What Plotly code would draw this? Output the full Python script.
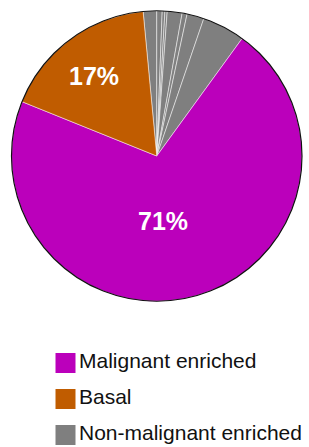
import plotly.graph_objects as go

# ---- data ----
slice_labels = ["Non-malignant 1", "Non-malignant 2", "Non-malignant 3", "Non-malignant 4",
                "Non-malignant 5", "Non-malignant 6", "Non-malignant 7", "Non-malignant 8",
                "Malignant enriched", "Basal"]
slice_values = [1.5, 0.6, 0.3, 0.25, 1.65, 0.55, 1.9, 4.75, 71.1, 17.4]
slice_groups = ["Non-malignant enriched"] * 8 + ["Malignant enriched", "Basal"]

legend_labels = ["Malignant enriched", "Basal", "Non-malignant enriched"]
group_colors = {"Malignant enriched": "#BB00BB", "Basal": "#C05C00",
                "Non-malignant enriched": "#7F7F7F"}

total = sum(slice_values)
slice_text = [f"{round(v / total * 100)}%" if v / total > 0.1 else "" for v in slice_values]

W, H = 309, 447
pie_domain = dict(x=[11.5 / W, 302 / W], y=[1 - 301.7 / H, 1 - 10.3 / H])

# label placement (pixels from top-left) for the labelled slices
label_pos = {"Malignant enriched": (163, 221), "Basal": (94, 76)}

fig = go.Figure()
fig.add_trace(go.Pie(
    labels=slice_labels, values=slice_values, sort=False, direction="clockwise",
    rotation=-5.4, domain=pie_domain,
    marker=dict(colors=[group_colors[g] for g in slice_groups],
                line=dict(color="rgba(255,255,255,0.7)", width=0.7)),
    textinfo="none",
    showlegend=False, hoverinfo="label+percent",
))
# outer outline
fig.add_trace(go.Pie(
    labels=["outline"], values=[1], domain=pie_domain, sort=False,
    marker=dict(colors=["rgba(0,0,0,0)"], line=dict(color="#111111", width=1.2)),
    textinfo="none", showlegend=False, hoverinfo="skip",
))
# custom legend drawn as a scatter on its own hidden axes
fig.add_trace(go.Scatter(
    x=[65.5] * len(legend_labels), y=list(range(len(legend_labels))),
    mode="markers+text", text=legend_labels, textposition="middle right",
    marker=dict(symbol="square", size=20, color=[group_colors[l] for l in legend_labels]),
    textfont=dict(family="Liberation Sans, Arial, sans-serif", size=21, color="#111111"),
    xaxis="x", yaxis="y", showlegend=False, hoverinfo="skip", cliponaxis=False,
))

annotations = []
for lab, txt in zip(slice_labels, slice_text):
    if txt and lab in label_pos:
        px, py = label_pos[lab]
        annotations.append(dict(
            x=px / W, y=1 - py / H, xref="paper", yref="paper", text=txt, showarrow=False,
            xanchor="center", yanchor="middle",
            font=dict(family="Liberation Sans, Arial, sans-serif", size=25, color="white", weight="bold"),
        ))

fig.update_layout(
    width=W, height=H, margin=dict(l=0, r=0, t=0, b=0),
    paper_bgcolor="white", plot_bgcolor="white",
    xaxis=dict(domain=[0, 1], range=[0, W], visible=False, fixedrange=True),
    yaxis=dict(domain=[0, 1 - 330 / H], range=[2.333, -0.917], visible=False, fixedrange=True),
    annotations=annotations,
)

fig.write_html("out.html", config={"displayModeBar": False},
               post_script="document.body.style.margin='0';document.body.style.overflow='hidden';")
